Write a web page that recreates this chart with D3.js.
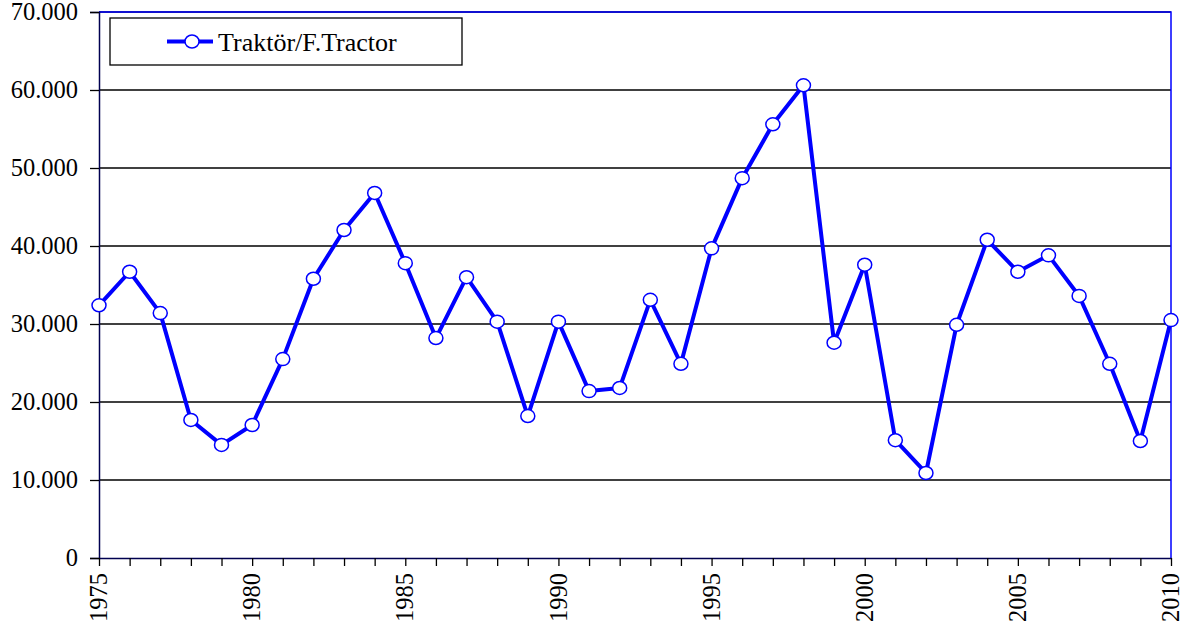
<!DOCTYPE html>
<meta charset="utf-8">
<script src="https://d3js.org/d3.v7.min.js"></script>
<style>
  body { margin: 0; background: #fff; }
  .lbl { font-family: "Liberation Serif", "Times New Roman", serif; font-size: 24.5px; fill: #000; }
  .leg { font-family: "Liberation Serif", "Times New Roman", serif; font-size: 26px; fill: #000; }
</style>
<div id="chart"></div>
<script>
// data
var years = d3.range(1975, 2011);
var tractors = [32400, 36700, 31400, 17700, 14500, 17050, 25500, 35800, 42050, 46800,
                37800, 28200, 36000, 30300, 18200, 30300, 21400, 21800, 33100, 24900,
                39700, 48700, 55600, 60600, 27600, 37600, 15100, 10900, 29900, 40800,
                36700, 38800, 33600, 24900, 15000, 30500];
var yTicks = [0, 10000, 20000, 30000, 40000, 50000, 60000, 70000];
var xLabels = [1975, 1980, 1985, 1990, 1995, 2000, 2005, 2010];
var seriesName = "Traktör/F.Tractor";

var W = 1186, H = 630;
var margin = {top: 12, right: 15, bottom: 72, left: 99};
var width = W - margin.left - margin.right,
    height = H - margin.top - margin.bottom;

var svg = d3.select("#chart").append("svg")
    .attr("width", W).attr("height", H)
  .append("g")
    .attr("transform", "translate(" + margin.left + "," + margin.top + ")");

var x = d3.scaleLinear().domain([1975, 2010]).range([0, width]);
var y = d3.scaleLinear().domain([0, 70000]).range([height, 0]);

var fmt = function(d) { return d === 0 ? "0" : d3.format(",")(d).replace(/,/g, "."); };

// gridlines
svg.selectAll(".grid").data(yTicks.slice(1))
  .enter().append("line")
    .attr("x1", 0).attr("x2", width)
    .attr("y1", function(d) { return y(d); })
    .attr("y2", function(d) { return y(d); })
    .attr("stroke", "#000").attr("stroke-width", 1.3);

// top and right border
svg.append("path")
    .attr("d", "M0," + y(70000) + "H" + width + "V" + height)
    .attr("fill", "none").attr("stroke", "#0000ff").attr("stroke-width", 1.5);

// y axis (ticks only, labels drawn below)
var yAxis = svg.append("g")
    .call(d3.axisLeft(y).tickValues(yTicks).tickFormat("").tickSizeOuter(0).tickSize(9));
yAxis.select(".domain").attr("stroke", "#000050").attr("stroke-width", 1.5);
yAxis.selectAll(".tick line").attr("stroke", "#000").attr("stroke-width", 1.3);

svg.selectAll(".ylab").data(yTicks)
  .enter().append("text")
    .attr("class", "lbl")
    .attr("x", -21).attr("y", function(d) { return y(d); })
    .attr("dy", "0.33em")
    .attr("text-anchor", "end")
    .text(fmt);

// x axis
var xAxis = svg.append("g")
    .attr("transform", "translate(0," + height + ")")
    .call(d3.axisBottom(x).tickValues(years).tickFormat("").tickSize(8).tickSizeOuter(0));
xAxis.select(".domain").attr("stroke", "#000050").attr("stroke-width", 1.5);
xAxis.selectAll(".tick line").attr("stroke", "#000").attr("stroke-width", 1.3);

svg.selectAll(".xlab").data(xLabels)
  .enter().append("text")
    .attr("class", "lbl")
    .attr("transform", function(d) { return "translate(" + x(d) + "," + (height + 15) + ") rotate(-90)"; })
    .attr("dy", "0.33em")
    .attr("text-anchor", "end")
    .text(function(d) { return d; });

// series line
var line = d3.line()
    .x(function(d, i) { return x(years[i]); })
    .y(function(d) { return y(d); });
svg.append("path").datum(tractors)
    .attr("d", line)
    .attr("fill", "none").attr("stroke", "#0000ff").attr("stroke-width", 4)
    .attr("stroke-linejoin", "round");

svg.selectAll(".pt").data(tractors)
  .enter().append("ellipse")
    .attr("cx", function(d, i) { return x(years[i]); })
    .attr("cy", function(d) { return y(d); })
    .attr("rx", 7).attr("ry", 6.5)
    .attr("fill", "#fff").attr("stroke", "#0000ff").attr("stroke-width", 1.5);

// legend
var lg = svg.append("g").attr("transform", "translate(" + (110 - margin.left) + "," + (18 - margin.top) + ")");
lg.append("rect").attr("width", 352).attr("height", 47)
    .attr("fill", "#fff").attr("stroke", "#000").attr("stroke-width", 1.3);
lg.append("line").attr("x1", 57).attr("x2", 103).attr("y1", 23.5).attr("y2", 23.5)
    .attr("stroke", "#0000ff").attr("stroke-width", 4);
lg.append("ellipse").attr("cx", 82).attr("cy", 23.5).attr("rx", 7).attr("ry", 6.5)
    .attr("fill", "#fff").attr("stroke", "#0000ff").attr("stroke-width", 1.5);
lg.append("text").attr("class", "leg").attr("x", 108).attr("y", 24).attr("dy", "0.35em")
    .text(seriesName);
</script>
